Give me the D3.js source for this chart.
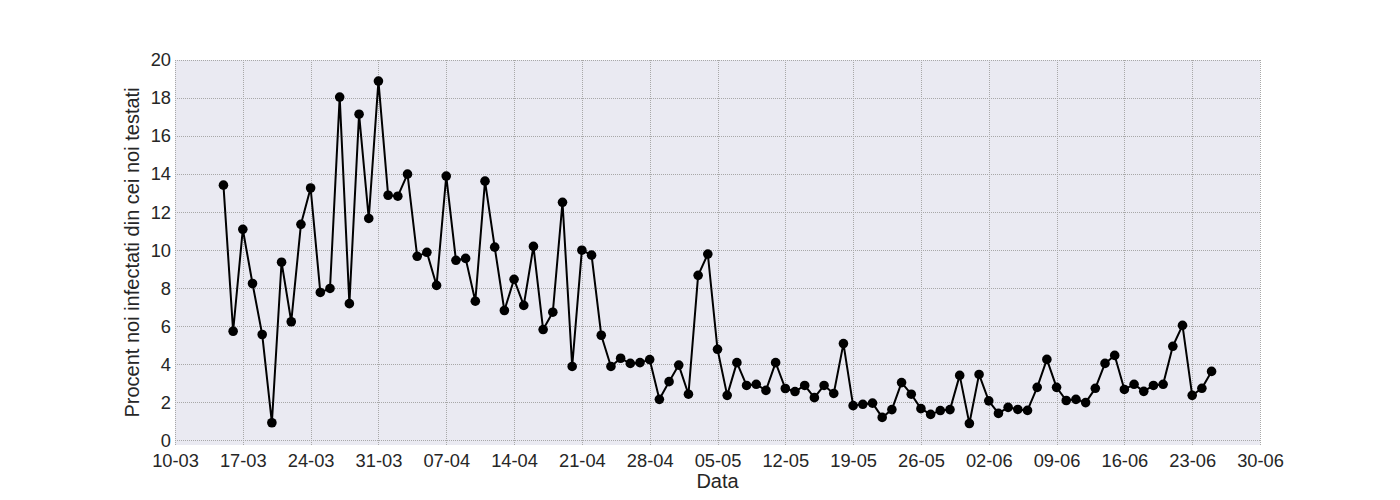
<!DOCTYPE html>
<html>
<head>
<meta charset="utf-8">
<script src="https://cdn.jsdelivr.net/npm/d3@7"></script>
<style>
  body { margin: 0; background: #fff; }
  text { font-family: "Liberation Sans", Arial, sans-serif; fill: #262626; }
</style>
</head>
<body>
<div id="chart"></div>
<script>
// percent of newly infected among newly tested, daily from 15-03-2020
const startDate = "2020-03-15";
const values = [
  13.42, 5.74, 11.1, 8.25, 5.57, 0.93, 9.37, 6.24, 11.36, 13.27,
  7.78, 7.99, 18.05, 7.19, 17.15, 11.67, 18.89, 12.89, 12.84, 14.0,
  9.68, 9.89, 8.15, 13.9, 9.47, 9.57, 7.32, 13.63, 10.16, 6.83,
  8.47, 7.1, 10.2, 5.83, 6.74, 12.52, 3.89, 10.0, 9.74, 5.53,
  3.89, 4.32, 4.05, 4.09, 4.25, 2.16, 3.09, 3.96, 2.43, 8.68,
  9.8, 4.79, 2.37, 4.09, 2.89, 2.95, 2.63, 4.09, 2.73, 2.57,
  2.89, 2.25, 2.89, 2.47, 5.09, 1.83, 1.9, 1.96, 1.21, 1.62,
  3.04, 2.43, 1.67, 1.37, 1.57, 1.62, 3.42, 0.89, 3.47, 2.08,
  1.42, 1.74, 1.63, 1.58, 2.79, 4.26, 2.79, 2.1, 2.16, 1.99,
  2.74, 4.05, 4.47, 2.68, 2.95, 2.58, 2.89, 2.95, 4.95, 6.05,
  2.37, 2.74, 3.63
];
const tickDates = [
  "2020-03-10", "2020-03-17", "2020-03-24", "2020-03-31", "2020-04-07",
  "2020-04-14", "2020-04-21", "2020-04-28", "2020-05-05", "2020-05-12",
  "2020-05-19", "2020-05-26", "2020-06-02", "2020-06-09", "2020-06-16",
  "2020-06-23", "2020-06-30"
];
const yTicks = [0, 2, 4, 6, 8, 10, 12, 14, 16, 18, 20];
const xLabel = "Data";
const yLabel = "Procent noi infectati din cei noi testati";

let width = 1400,
    height = 500,
    margin = ({ top: 60, right: 140, bottom: 55, left: 175 });

const parse = d3.utcParse("%Y-%m-%d");
const start = parse(startDate);
const data = values.map((v, i) => ({ date: d3.utcDay.offset(start, i), value: v }));
const ticks = tickDates.map(parse);

const svg = d3.select("#chart")
  .append("svg")
  .attr("width", width)
  .attr("height", height);

const x = d3.scaleUtc()
  .domain([ticks[0], ticks[ticks.length - 1]])
  .range([margin.left, width - margin.right]);

const y = d3.scaleLinear()
  .domain([-0.24, 20])
  .range([height - margin.bottom, margin.top]);

// plot background
svg.append("rect")
  .attr("x", margin.left)
  .attr("y", margin.top)
  .attr("width", width - margin.left - margin.right)
  .attr("height", height - margin.top - margin.bottom)
  .attr("fill", "#eaeaf2");

// grid
const grid = svg.append("g")
  .attr("stroke", "#a8a8a8")
  .attr("stroke-width", 1)
  .attr("stroke-dasharray", "1,1");

grid.selectAll("line.v")
  .data(ticks)
  .join("line")
  .attr("class", "v")
  .attr("x1", d => Math.round(x(d)) + 0.5)
  .attr("x2", d => Math.round(x(d)) + 0.5)
  .attr("y1", margin.top)
  .attr("y2", height - margin.bottom);

grid.selectAll("line.h")
  .data(yTicks)
  .join("line")
  .attr("class", "h")
  .attr("x1", margin.left)
  .attr("x2", width - margin.right)
  .attr("y1", d => Math.round(y(d)) + 0.5)
  .attr("y2", d => Math.round(y(d)) + 0.5);

// axes (labels only, no tick marks or spines)
svg.append("g")
  .attr("transform", `translate(0,${height - margin.bottom})`)
  .call(d3.axisBottom(x).tickValues(ticks).tickFormat(d3.utcFormat("%d-%m")).tickSize(0).tickPadding(9));

svg.append("g")
  .attr("transform", `translate(${margin.left},0)`)
  .call(d3.axisLeft(y).tickValues(yTicks).tickSize(0).tickPadding(4));

svg.selectAll(".domain").remove();
svg.selectAll(".tick text")
  .style("font-family", "'Liberation Sans', Arial, sans-serif")
  .style("font-size", "18.3px")
  .attr("fill", "#262626");

svg.append("text")
  .attr("x", (margin.left + width - margin.right) / 2)
  .attr("y", 488)
  .attr("text-anchor", "middle")
  .style("font-size", "20px")
  .text(xLabel);

svg.append("text")
  .attr("transform", `translate(139,${(margin.top + height - margin.bottom) / 2}) rotate(-90)`)
  .attr("text-anchor", "middle")
  .style("font-size", "20px")
  .text(yLabel);

// series
const line = d3.line()
  .x(d => x(d.date))
  .y(d => y(d.value));

svg.append("path")
  .datum(data)
  .attr("fill", "none")
  .attr("stroke", "#000")
  .attr("stroke-width", 2)
  .attr("stroke-linejoin", "round")
  .attr("d", line);

svg.append("g")
  .selectAll("circle")
  .data(data)
  .join("circle")
  .attr("cx", d => x(d.date))
  .attr("cy", d => y(d.value))
  .attr("r", 4.8)
  .attr("fill", "#000");
</script>
</body>
</html>
